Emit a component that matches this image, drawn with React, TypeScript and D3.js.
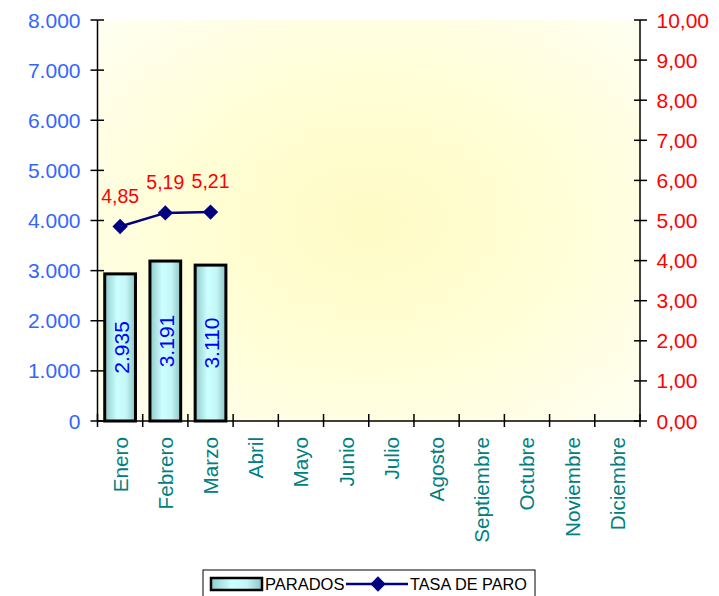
import { useEffect, useRef } from 'react'
import * as d3 from 'd3'

const months = ['Enero', 'Febrero', 'Marzo', 'Abril', 'Mayo', 'Junio', 'Julio', 'Agosto', 'Septiembre', 'Octubre', 'Noviembre', 'Diciembre']
const paradosMonths = ['Enero', 'Febrero', 'Marzo']
const parados = [2935, 3191, 3110]
const tasaParo = [4.85, 5.19, 5.21]
const leftTicks = [0, 1000, 2000, 3000, 4000, 5000, 6000, 7000, 8000]
const rightTicks = [0, 1, 2, 3, 4, 5, 6, 7, 8, 9, 10]

const FONT = 'Liberation Sans, Arial, sans-serif'

export default function App() {
  const svgRef = useRef<SVGSVGElement>(null)

  useEffect(() => {
    if (!svgRef.current) return
    const svg = d3.select(svgRef.current)
    svg.selectAll('*').remove()

    const left = 97.5, right = 640, top = 20, bottom = 421

    const x = d3.scaleBand().domain(months).range([left, right]).padding(0)
    const yL = d3.scaleLinear().domain([0, 8000]).range([bottom, top])
    const yR = d3.scaleLinear().domain([0, 10]).range([bottom, top])
    const fmtL = (v: number) => d3.format(',')(v).replace(/,/g, '.')
    const fmtR = (v: number) => v.toFixed(2).replace('.', ',')

    const defs = svg.append('defs')
    const bg = defs.append('radialGradient').attr('id', 'bg')
      .attr('cx', '50%').attr('cy', '50%').attr('r', '70%')
    bg.append('stop').attr('offset', '0%').attr('stop-color', '#fffbc6')
    bg.append('stop').attr('offset', '50%').attr('stop-color', '#fffed6')
    bg.append('stop').attr('offset', '100%').attr('stop-color', '#fffff2')

    const barGrad = defs.append('linearGradient').attr('id', 'bar')
      .attr('x1', '0%').attr('x2', '100%').attr('y1', '0%').attr('y2', '0%')
    barGrad.append('stop').attr('offset', '0%').attr('stop-color', '#8fc9c9')
    barGrad.append('stop').attr('offset', '40%').attr('stop-color', '#ccffff')
    barGrad.append('stop').attr('offset', '70%').attr('stop-color', '#c4f6f6')
    barGrad.append('stop').attr('offset', '100%').attr('stop-color', '#8cc4c4')

    // Plot background
    svg.append('rect')
      .attr('x', left).attr('y', top)
      .attr('width', right - left).attr('height', bottom - top)
      .attr('fill', 'url(#bg)')

    // Bars
    const bw = x.bandwidth() * 0.68
    svg.selectAll('.bar')
      .data(paradosMonths.map((m, i) => ({ m, v: parados[i] })))
      .join('rect')
      .attr('class', 'bar')
      .attr('x', d => (x(d.m) || 0) + (x.bandwidth() - bw) / 2)
      .attr('y', d => yL(d.v))
      .attr('width', bw)
      .attr('height', d => bottom - yL(d.v))
      .attr('fill', 'url(#bar)')
      .attr('stroke', '#000')
      .attr('stroke-width', 3)

    // Bar labels
    svg.selectAll('.bar-label')
      .data(paradosMonths.map((m, i) => ({ m, v: parados[i] })))
      .join('text')
      .attr('class', 'bar-label')
      .attr('transform', d => `translate(${(x(d.m) || 0) + x.bandwidth() / 2 + 1},${(yL(d.v) + bottom) / 2}) rotate(-90)`)
      .attr('text-anchor', 'middle')
      .attr('dominant-baseline', 'central')
      .attr('fill', '#0000ff')
      .attr('font-size', '21px')
      .attr('font-family', FONT)
      .text(d => fmtL(d.v))

    // Axes lines
    svg.append('line').attr('x1', left).attr('x2', left).attr('y1', top).attr('y2', bottom)
      .attr('stroke', '#000').attr('stroke-width', 1.5)
    svg.append('line').attr('x1', right).attr('x2', right).attr('y1', top).attr('y2', bottom)
      .attr('stroke', '#000').attr('stroke-width', 1.5)
    svg.append('line').attr('x1', left).attr('x2', right).attr('y1', bottom).attr('y2', bottom)
      .attr('stroke', '#000').attr('stroke-width', 1.5)

    // Left ticks
    svg.selectAll('.ltick').data(leftTicks).join('line').attr('class', 'ltick')
      .attr('x1', left - 7).attr('x2', left + 6.5)
      .attr('y1', d => yL(d)).attr('y2', d => yL(d))
      .attr('stroke', '#000').attr('stroke-width', 1.5)
    svg.selectAll('.llabel').data(leftTicks).join('text').attr('class', 'llabel')
      .attr('x', left - 17).attr('y', d => yL(d))
      .attr('text-anchor', 'end').attr('dominant-baseline', 'central')
      .attr('fill', '#3366ff').attr('font-size', '21px').attr('font-family', FONT)
      .text(d => fmtL(d))

    // Right ticks
    svg.selectAll('.rtick').data(rightTicks).join('line').attr('class', 'rtick')
      .attr('x1', right - 6).attr('x2', right + 7)
      .attr('y1', d => yR(d)).attr('y2', d => yR(d))
      .attr('stroke', '#000').attr('stroke-width', 1.5)
    svg.selectAll('.rlabel').data(rightTicks).join('text').attr('class', 'rlabel')
      .attr('x', right + 16.5).attr('y', d => yR(d))
      .attr('text-anchor', 'start').attr('dominant-baseline', 'central')
      .attr('fill', '#ff0000').attr('font-size', '21px').attr('font-family', FONT)
      .text(d => fmtR(d))

    // Category ticks
    const bounds = [...months.map(m => x(m) || 0), right]
    svg.selectAll('.xtick').data(bounds).join('line').attr('class', 'xtick')
      .attr('x1', d => d).attr('x2', d => d)
      .attr('y1', bottom - 7).attr('y2', bottom + 6)
      .attr('stroke', '#000').attr('stroke-width', 1.5)

    svg.selectAll('.xlabel').data(months).join('text').attr('class', 'xlabel')
      .attr('transform', d => `translate(${(x(d) || 0) + x.bandwidth() / 2},${bottom + 16}) rotate(-90)`)
      .attr('text-anchor', 'end').attr('dominant-baseline', 'central')
      .attr('fill', '#008080').attr('font-size', '20.7px').attr('font-family', FONT)
      .text(d => d)

    // Line series
    const pts = paradosMonths.map((m, i) => ({ m, v: tasaParo[i] }))
    const line = d3.line<{ m: string; v: number }>()
      .x(d => (x(d.m) || 0) + x.bandwidth() / 2)
      .y(d => yR(d.v))
    svg.append('path').datum(pts)
      .attr('d', line)
      .attr('fill', 'none').attr('stroke', '#000080').attr('stroke-width', 2.5)

    const diamond = d3.symbol().type(d3.symbolDiamond2).size(150)
    svg.selectAll('.marker').data(pts).join('path').attr('class', 'marker')
      .attr('d', diamond)
      .attr('transform', d => `translate(${(x(d.m) || 0) + x.bandwidth() / 2},${yR(d.v)})`)
      .attr('fill', '#000080')

    svg.selectAll('.pt-label').data(pts).join('text').attr('class', 'pt-label')
      .attr('x', d => (x(d.m) || 0) + x.bandwidth() / 2)
      .attr('y', d => yR(d.v) - 31)
      .attr('text-anchor', 'middle').attr('dominant-baseline', 'central')
      .attr('fill', '#ff0000').attr('font-size', '19.5px').attr('font-family', FONT)
      .text(d => fmtR(d.v))

    // Legend
    const lg = svg.append('g')
    lg.append('rect').attr('x', 203).attr('y', 570).attr('width', 332).attr('height', 40)
      .attr('fill', '#fff').attr('stroke', '#000').attr('stroke-width', 1)
    lg.append('rect').attr('x', 211).attr('y', 578).attr('width', 51).attr('height', 12)
      .attr('fill', 'url(#bar)').attr('stroke', '#000').attr('stroke-width', 2.5)
    lg.append('text').attr('x', 265).attr('y', 590)
      .attr('font-size', '16.5px').attr('font-family', FONT).attr('fill', '#000')
      .text('PARADOS')
    lg.append('line').attr('x1', 346).attr('x2', 408).attr('y1', 584).attr('y2', 584)
      .attr('stroke', '#000080').attr('stroke-width', 2.5)
    lg.append('path').attr('d', diamond).attr('transform', 'translate(378,584)')
      .attr('fill', '#000080')
    lg.append('text').attr('x', 410).attr('y', 590)
      .attr('font-size', '16.3px').attr('font-family', FONT).attr('fill', '#000')
      .text('TASA DE PARO')
  }, [])

  return (
    <div style={{ position: 'absolute', left: 0, top: 0 }}>
      <svg ref={svgRef} width={719} height={596} style={{ display: 'block', background: '#fff' }}></svg>
    </div>
  )
}
